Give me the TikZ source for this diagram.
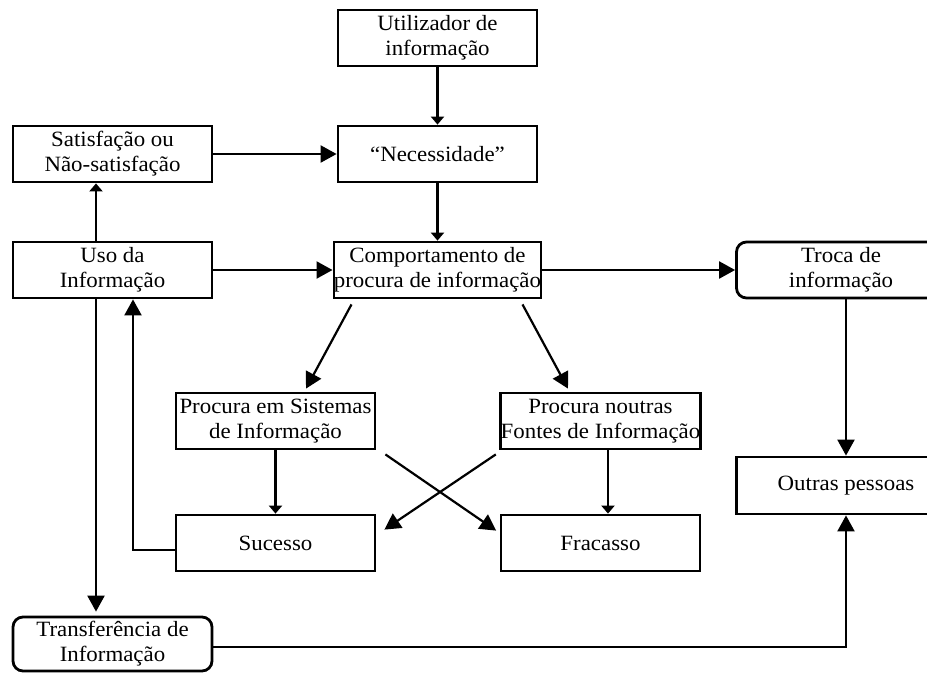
\documentclass[tikz,border=0pt]{standalone}
\usepackage{fontspec}
\setmainfont{Liberation Serif}[FakeStretch=1.05]
\usetikzlibrary{arrows.meta,calc}
\begin{document}
\begin{tikzpicture}[x=1pt,y=-1pt,
 box/.style={draw, line width=2.8pt, minimum width=199pt, minimum height=56pt, inner sep=0pt, align=center, font=\fontsize{21.8}{25}\selectfont},
 rbox/.style={box, rounded corners=10pt},
 conn/.style={line width=2.2pt},
 big/.style={conn, -{Triangle[length=16pt,width=17pt]}},
 small/.style={conn, -{Triangle[length=8pt,width=13pt]}}]
\useasboundingbox (0,0) rectangle (927,673);
\clip (0,0) rectangle (927,673);

\node[box] (ut) at (437.5,38) {Utilizador de\\informação};
\node[box] (ne) at (437.5,154) {“Necessidade”};
\node[box] (co) at (437.5,270) {Comportamento de\\procura de informação};
\node[box] (sa) at (112.5,154) {Satisfação ou\\Não-satisfação};
\node[box] (us) at (112.5,270) {Uso da\\Informação};
\node[rbox, minimum width=209pt] (tr) at (841,270) {Troca de\\informação};
\node[box] (ps) at (275.5,421) {Procura em Sistemas\\de Informação};
\node[box] (pn) at (600.5,421) {Procura noutras\\Fontes de Informação};
\node[box] (su) at (275.5,543) {Sucesso};
\node[box] (fr) at (600.5,543) {Fracasso};
\node[box, minimum width=219pt, minimum height=57pt] (op) at (846,485.5) {Outras pessoas};
\node[rbox, minimum height=54pt] (tf) at (112.5,644) {Transferência de\\Informação};

\draw[small] (ut) -- (ne);
\draw[small] (ne) -- (co);
\draw[big] (sa) -- (ne);
\draw[big] (us) -- (co);
\draw[big] (co) -- (tr);
\draw[small] ($(us.north)+(-16.5,0)$) -- ($(sa.south)+(-16.5,0)$);

\coordinate (d1s) at ($(co.south west)+(19,5)$);
\coordinate (d1e) at ($(ps.north)+(30.5,-3)$);
\coordinate (d2s) at ($(co.south east)+(-20,5)$);
\coordinate (d2e) at ($(pn.north)+(-32.5,-3)$);
\draw[big] (d1s) -- (d1e);
\draw[big] (d2s) -- (d2e);

\draw[big] (tr.south -| op.north) -- (op.north);
\draw[small] (ps) -- (su);
\draw[small] ($(pn.south)+(7.5,0)$) -- ($(fr.north)+(7.5,0)$);

\coordinate (c1s) at ($(ps.south east)+(9,4)$);
\coordinate (c1e) at ($(fr.north west)+(-3.5,17)$);
\coordinate (c2s) at ($(pn.south west)+(-3.5,4)$);
\coordinate (c2e) at ($(su.north east)+(8,16)$);
\draw[big] (c1s) -- (c1e);
\draw[big] (c2s) -- (c2e);

\draw[big] ($(us.south)+(-16.5,0)$) -- ($(tf.north)+(-16.5,-4)$);
\draw[big] ($(su.west)+(0,7)$) -| ($(us.south)+(20.5,0)$);
\draw[big] ($(tf.east)+(0,3)$) -| (op.south);
\end{tikzpicture}
\end{document}
